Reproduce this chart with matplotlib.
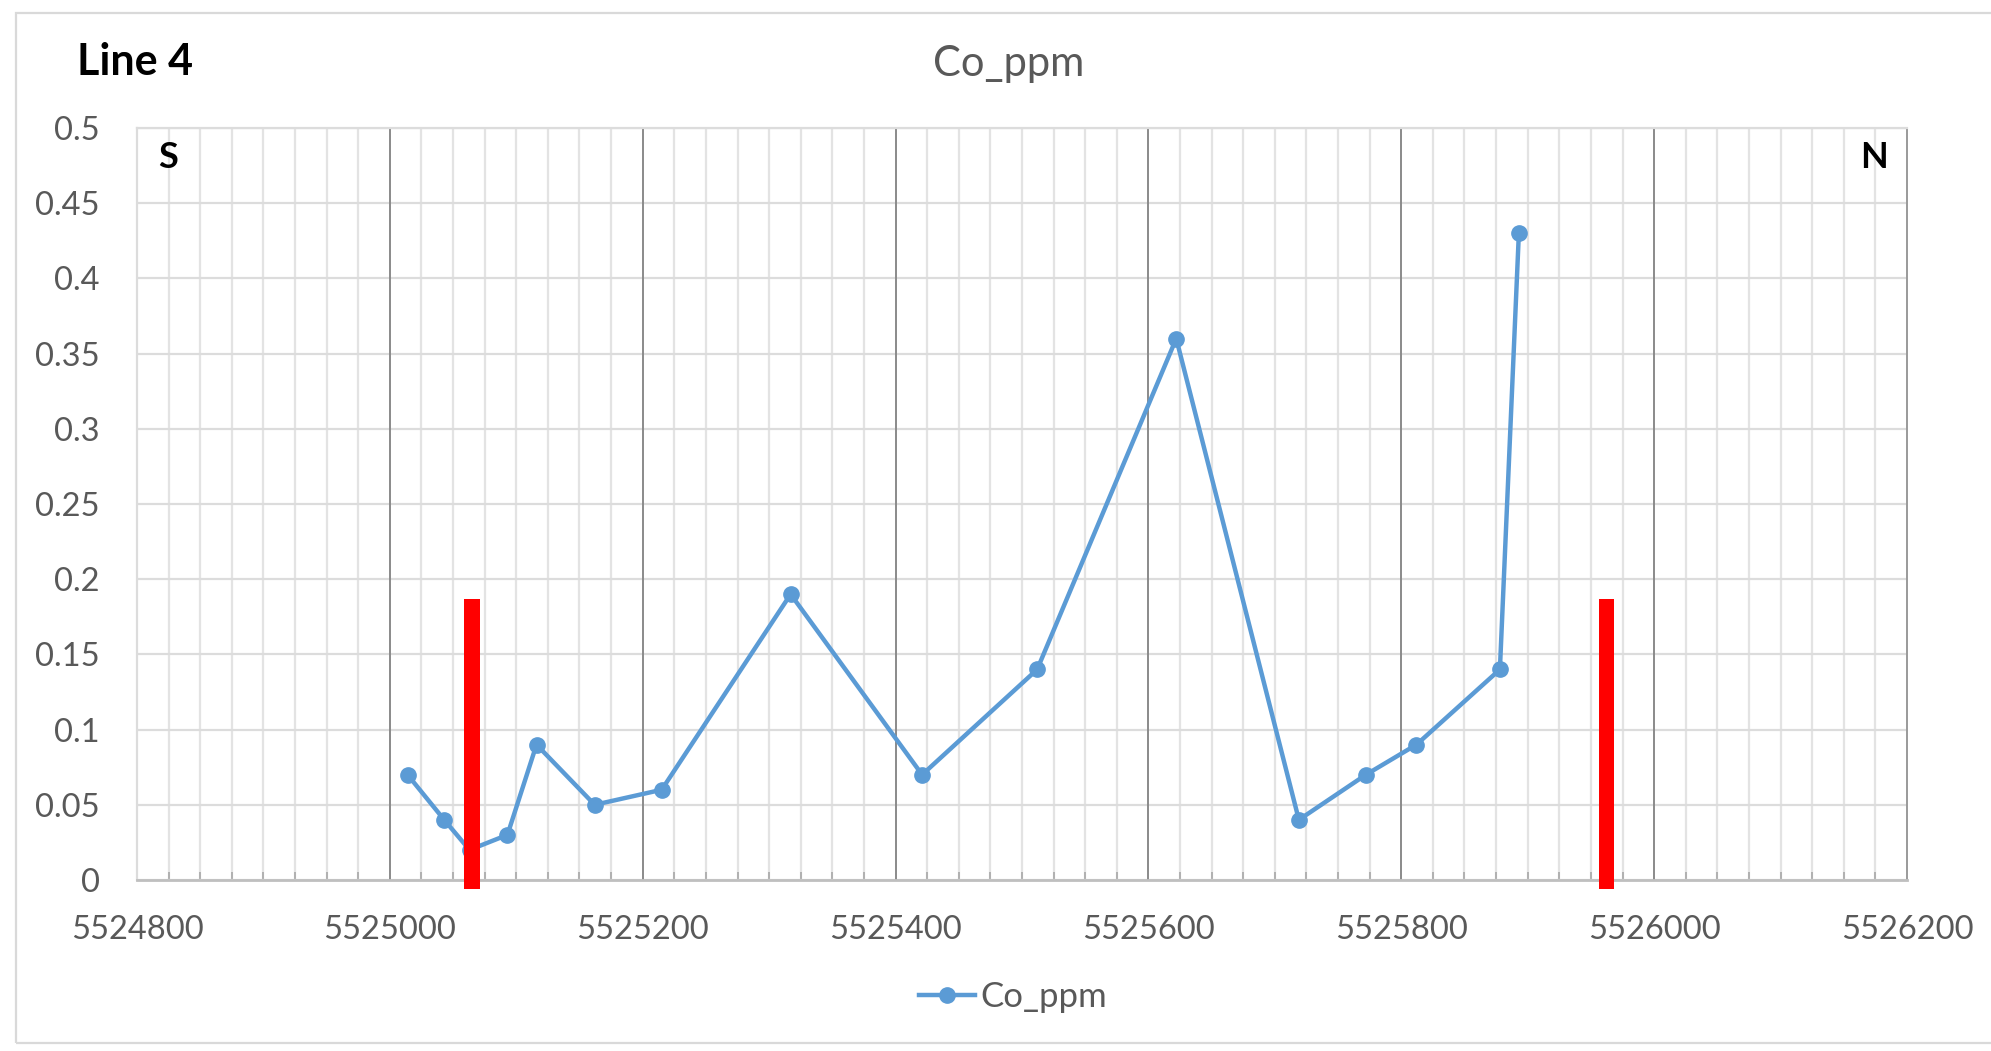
import matplotlib
matplotlib.use("Agg")
import matplotlib.pyplot as plt
from matplotlib.ticker import MultipleLocator, FuncFormatter
from matplotlib.patches import Rectangle
from matplotlib.lines import Line2D

# Sample positions along Line 4 (northing, m) and cobalt values
northing = [5525014, 5525043, 5525063, 5525093, 5525116, 5525162, 5525215,
            5525317, 5525421, 5525512, 5525622, 5525719, 5525772, 5525812,
            5525878, 5525893]
co_ppm = [0.07, 0.04, 0.02, 0.03, 0.09, 0.05, 0.06,
          0.19, 0.07, 0.14, 0.36, 0.04, 0.07, 0.09,
          0.14, 0.43]

# Red boundary markers along the line
marker_pos = [5525065, 5525962]
marker_top = [0.187, 0.187]
marker_base = -0.006

x_ticks = [5524800, 5525000, 5525200, 5525400, 5525600, 5525800, 5526000, 5526200]
chart_title = "Co_ppm"
line_label = "Line 4"

W, H = 1991, 1051
fig = plt.figure(figsize=(W / 100, H / 100), dpi=100)
plt.rcParams['font.family'] = ['Lato', 'DejaVu Sans']

ax_left, ax_right, ax_top, ax_bottom = 137, 1907, 128, 880
ax = fig.add_axes([ax_left / W, 1 - ax_bottom / H,
                   (ax_right - ax_left) / W, (ax_bottom - ax_top) / H])

line_color = "#5B9BD5"
ax.plot(northing, co_ppm, color=line_color, lw=3.2, marker="o", ms=11,
        zorder=4, label="Co_ppm", clip_on=False)

heights = [t - marker_base for t in marker_top]
ax.bar(marker_pos, heights, bottom=marker_base, width=12, color="#FF0000",
       zorder=5, clip_on=False)

ax.set_xlim(x_ticks[0], x_ticks[-1])
ax.set_ylim(0, 0.5)
ax.set_xticks(x_ticks)
ax.xaxis.set_minor_locator(MultipleLocator(25))
ax.yaxis.set_major_locator(MultipleLocator(0.05))
ax.xaxis.set_major_formatter(FuncFormatter(lambda v, p: f"{v:.0f}"))
ax.yaxis.set_major_formatter(FuncFormatter(lambda v, p: f"{round(v, 2):g}"))

# gridlines
ax.grid(True, which="minor", axis="x", color="#e3e3e3", lw=1.6, zorder=0)
ax.grid(True, which="major", axis="y", color="#dcdcdc", lw=1.6, zorder=0)
for xv in x_ticks[1:-1]:
    ax.axvline(xv, color="#8a8a8a", lw=1.4, zorder=1)
ax.set_axisbelow(True)

for side in ("top", "left"):
    ax.spines[side].set_color("#dcdcdc")
    ax.spines[side].set_linewidth(1.6)
ax.spines["right"].set_color("#9a9a9a")
ax.spines["right"].set_linewidth(1.4)
ax.spines["bottom"].set_color("#bfbfbf")
ax.spines["bottom"].set_linewidth(2)

tick_color = "#595959"
ax.tick_params(axis="x", which="major", length=0, pad=25, labelsize=23.5,
               labelcolor=tick_color)
ax.tick_params(axis="x", which="minor", direction="in", length=6,
               width=1.4, color="#b0b0b0")
ax.tick_params(axis="y", which="major", length=0, pad=27, labelsize=23.5,
               labelcolor=tick_color)

# Direction labels
ax.text(0.012, 0.947, "S", transform=ax.transAxes, fontsize=26,
        fontweight="bold", color="black", ha="left", va="baseline")
ax.text(0.9894, 0.947, "N", transform=ax.transAxes, fontsize=26,
        fontweight="bold", color="black", ha="right", va="baseline")

fig.text(77 / W, 1 - 75 / H, line_label, fontsize=31, fontweight="bold",
         color="black", ha="left", va="baseline")
fig.text(1009 / W, 1 - 76 / H, chart_title, fontsize=30, color=tick_color,
         ha="center", va="baseline")

handle = Line2D([], [], color=line_color, lw=3.2, marker="o", ms=11)
fig.legend([handle], ["Co_ppm"], loc="center",
           bbox_to_anchor=(1013 / W, 1 - 997 / H), frameon=False,
           fontsize=25, labelcolor=tick_color, handlelength=1.6,
           handletextpad=0.15)

# chart area border
fig.patches.append(Rectangle((16 / W, 1 - 1043 / H), 1.0, (1043 - 13) / H,
                             transform=fig.transFigure, fill=False,
                             edgecolor="#d9d9d9", lw=1.6, zorder=0))

fig.savefig("out.png", dpi=100)
